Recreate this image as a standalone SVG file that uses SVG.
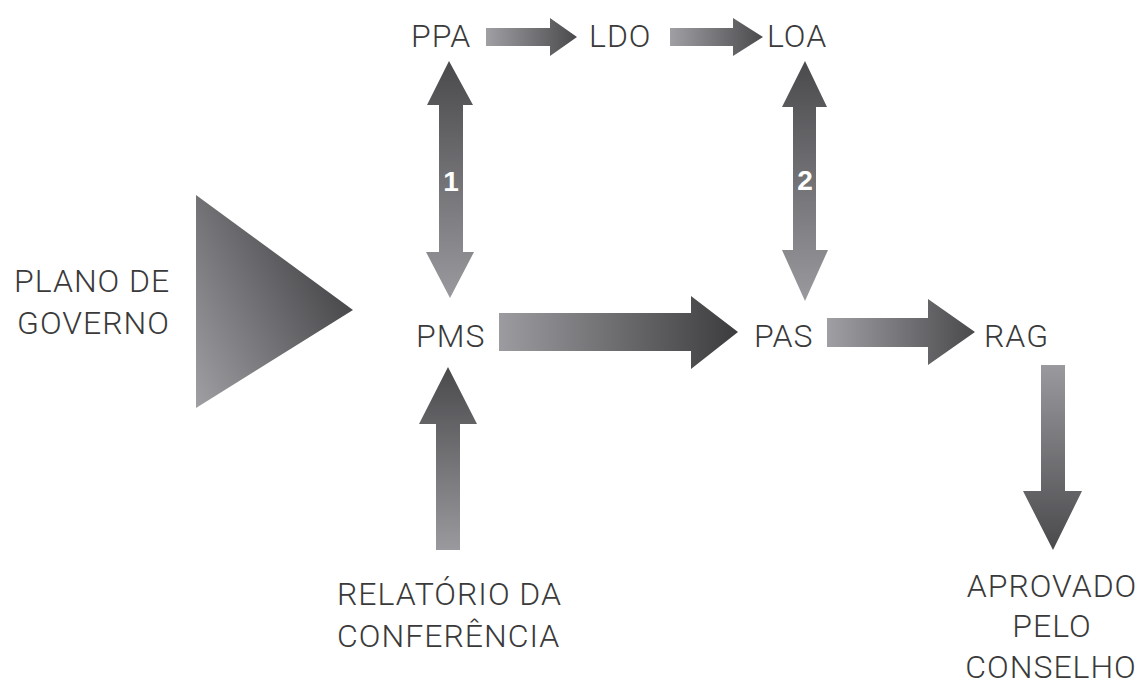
<svg xmlns="http://www.w3.org/2000/svg" width="1145" height="684" viewBox="0 0 1145 684">
  <defs>
    <linearGradient id="gH" x1="0" y1="0" x2="1" y2="0">
      <stop offset="0" stop-color="#9c9ca0"/>
      <stop offset="1" stop-color="#3c3c3e"/>
    </linearGradient>
    <linearGradient id="gHs" x1="0" y1="0" x2="1" y2="0">
      <stop offset="0" stop-color="#a0a0a4"/>
      <stop offset="1" stop-color="#4a4a4d"/>
    </linearGradient>
    <linearGradient id="gUp" x1="0" y1="0" x2="0" y2="1">
      <stop offset="0" stop-color="#4a4a4d"/>
      <stop offset="1" stop-color="#9a9a9e"/>
    </linearGradient>
    <linearGradient id="gDown" x1="0" y1="0" x2="0" y2="1">
      <stop offset="0" stop-color="#9a9a9e"/>
      <stop offset="1" stop-color="#4a4a4d"/>
    </linearGradient>
    <linearGradient id="gTri" x1="0" y1="1" x2="1" y2="0.3">
      <stop offset="0" stop-color="#a0a0a4"/>
      <stop offset="1" stop-color="#3e3e41"/>
    </linearGradient>
  </defs>
  <style>
    .lbl { font-family: Roboto, "Liberation Sans", sans-serif; font-weight: 300; font-size: 32px; fill: #3a3a3a; letter-spacing: 1px; }
    .num { font-family: "Liberation Sans", Arial, sans-serif; font-weight: bold; font-size: 28px; fill: #ffffff; text-anchor: middle; }
  </style>
  <rect width="1145" height="684" fill="#ffffff"/>

  <g id="connectors">
    <!-- PPA -> LDO -->
    <polygon points="486,28 550,28 550,18 577,37 550,56 550,46 486,46" fill="url(#gHs)"/>
    <!-- LDO -> LOA -->
    <polygon points="670,28 733,28 733,18 763,37 733,56 733,46 670,46" fill="url(#gHs)"/>
    <!-- PPA <-> PMS (1) -->
    <polygon points="449,61 473,105 463,105 463,252 474,252 450,298 426,252 439,252 439,105 427,105" fill="url(#gUp)"/>
    <text class="num" x="451" y="191">1</text>
    <!-- LOA <-> PAS (2) -->
    <polygon points="805,61 827,107 816,107 816,250 828,250 805,301 782,250 793,250 793,107 782,107" fill="url(#gUp)"/>
    <text class="num" x="805" y="190">2</text>
    <!-- PMS -> PAS -->
    <polygon points="499,313 691,313 691,296 738,332 691,369 691,351 499,351" fill="url(#gH)"/>
    <!-- PAS -> RAG -->
    <polygon points="827,318 928,318 928,299 975,332 928,365 928,347 827,347" fill="url(#gHs)"/>
    <!-- Relatorio -> PMS -->
    <polygon points="448,367 477,424 460,424 460,550 436,550 436,424 419,424" fill="url(#gUp)"/>
    <!-- RAG -> Aprovado -->
    <polygon points="1041,365 1065,365 1065,491 1082,491 1053,550 1023,491 1041,491" fill="url(#gDown)"/>
    <!-- Plano de governo -->
    <polygon points="196,195 353,310 196,408" fill="url(#gTri)"/>
  </g>

  <g id="node-ppa"><text class="lbl" x="411" y="47">PPA</text></g>
  <g id="node-ldo"><text class="lbl" x="589" y="47">LDO</text></g>
  <g id="node-loa"><text class="lbl" x="767" y="47">LOA</text></g>
  <g id="node-plano">
    <text class="lbl" x="14" y="292">PLANO DE</text>
    <text class="lbl" x="17" y="334">GOVERNO</text>
  </g>
  <g id="node-pms"><text class="lbl" x="416" y="347">PMS</text></g>
  <g id="node-pas"><text class="lbl" x="754" y="347">PAS</text></g>
  <g id="node-rag"><text class="lbl" x="984" y="347">RAG</text></g>
  <g id="node-relatorio">
    <text class="lbl" x="337" y="605">RELATÓRIO DA</text>
    <text class="lbl" x="337" y="647">CONFERÊNCIA</text>
  </g>
  <g id="node-aprovado">
    <text class="lbl" x="1052" y="597" text-anchor="middle">APROVADO</text>
    <text class="lbl" x="1052" y="637" text-anchor="middle">PELO</text>
    <text class="lbl" x="1051" y="678" text-anchor="middle">CONSELHO</text>
  </g>
</svg>
